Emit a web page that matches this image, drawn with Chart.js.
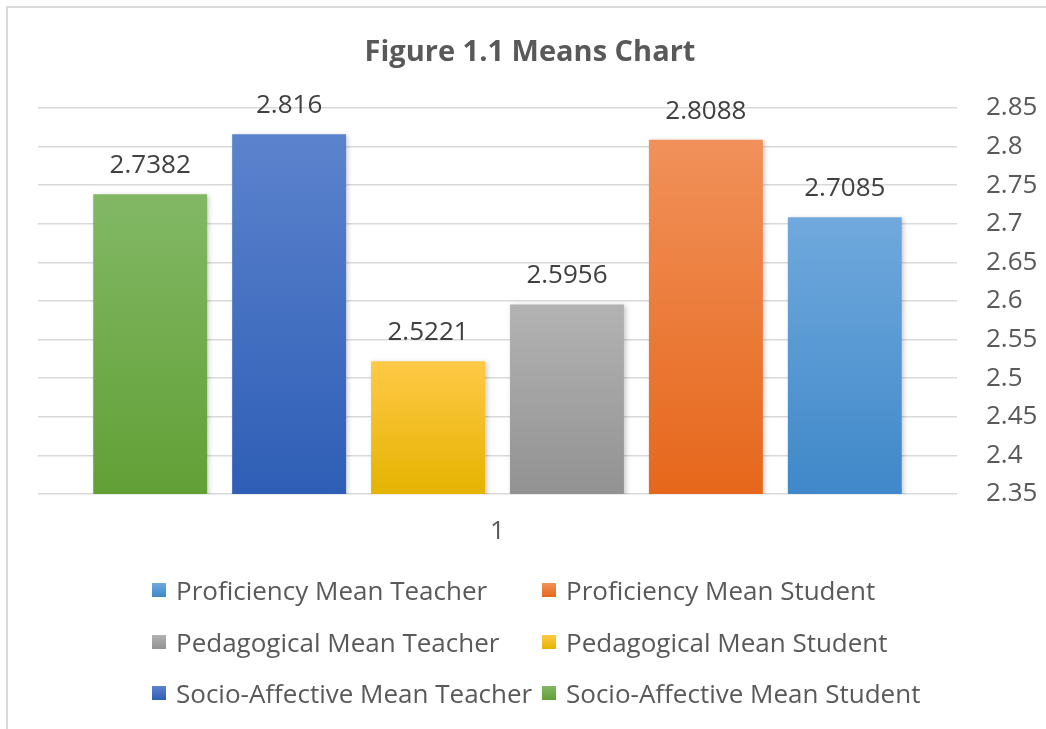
<!DOCTYPE html>
<html>
<head>
<meta charset="utf-8">
<script src="https://cdn.jsdelivr.net/npm/chart.js@4"></script>
<style>
  body { margin: 0; background: #fff; }
  #wrap { position: relative; width: 1046px; height: 729px; overflow: hidden; font-family: "Open Sans", sans-serif; }
  #frame { position: absolute; left: 6px; top: 6px; width: 1100px; height: 800px; border-top: 2px solid #d9d9d9; border-left: 2px solid #d9d9d9; }
  #mainChart { position: absolute; left: 0; top: 0; }
  #title { position: absolute; left: 330px; width: 400px; top: 30px; height: 40px; line-height: 40px; text-align: center; font-size: 29px; font-weight: bold; color: #595959; white-space: nowrap; }
  .leg { position: absolute; display: flex; align-items: center; font-size: 26px; color: #595959; white-space: nowrap; height: 36px; }
  .leg span.box { width: 14px; height: 14px; margin-right: 10px; display: inline-block; }
</style>
</head>
<body>
<div id="wrap">
  <div id="frame"></div>
  <canvas id="mainChart" width="1046" height="729"></canvas>
  <div id="title">Figure 1.1 Means Chart</div>
  <div id="legend"></div>
</div>
<script>
const categories = ['1'];
const seriesNames = [
  'Socio-Affective Mean Student',
  'Socio-Affective Mean Teacher',
  'Pedagogical Mean Student',
  'Pedagogical Mean Teacher',
  'Proficiency Mean Student',
  'Proficiency Mean Teacher'
];
const seriesValues = [2.7382, 2.816, 2.5221, 2.5956, 2.8088, 2.7085];
const seriesLabels = ['2.7382', '2.816', '2.5221', '2.5956', '2.8088', '2.7085'];
const yMin = 2.35;
const yMax = 2.85;
const yStep = 0.05;

// light top / dark bottom, like the office gradient fills
const colorsTop = ['#82b865', '#5c83cd', '#ffc947', '#b3b3b3', '#f1915a', '#70a9dd'];
const colorsBottom = ['#62a036', '#2e5eb6', '#e5b300', '#929292', '#e6671b', '#3f88c9'];

const textColor = '#595959';
const font = '"Open Sans", sans-serif';

function barGradient(context) {
  const chart = context.chart;
  const i = context.datasetIndex;
  const area = chart.chartArea;
  if (!area || !chart.scales.y) return colorsTop[i];
  const top = chart.scales.y.getPixelForValue(seriesValues[i]);
  const g = chart.ctx.createLinearGradient(0, top, 0, area.bottom);
  g.addColorStop(0, colorsTop[i]);
  g.addColorStop(1, colorsBottom[i]);
  return g;
}

const barShadow = {
  id: 'barShadow',
  beforeDatasetsDraw(chart) {
    const ctx = chart.ctx;
    ctx.save();
    ctx.shadowColor = 'rgba(0,0,0,0.22)';
    ctx.shadowBlur = 5;
    ctx.shadowOffsetX = 2;
    ctx.shadowOffsetY = 1;
  },
  afterDatasetsDraw(chart) {
    chart.ctx.restore();
    const ctx = chart.ctx;
    ctx.save();
    ctx.font = '26px ' + font;
    ctx.fillStyle = '#404040';
    ctx.textAlign = 'center';
    ctx.textBaseline = 'alphabetic';
    chart.data.datasets.forEach((ds, i) => {
      const bar = chart.getDatasetMeta(i).data[0];
      ctx.fillText(seriesLabels[i], bar.x, bar.y - 21);
    });
    ctx.restore();
  }
};

const datasets = seriesNames.map((name, i) => ({
  label: name,
  data: [seriesValues[i]],
  backgroundColor: barGradient,
  borderWidth: 0,
  barPercentage: 0.82,
  categoryPercentage: 0.907
}));

new Chart(document.getElementById('mainChart'), {
  type: 'bar',
  data: { labels: categories, datasets: datasets },
  options: {
    responsive: false,
    animation: false,
    layout: { padding: { left: 38, right: 0, top: 108, bottom: 182 } },
    plugins: {
      legend: { display: false },
      tooltip: { enabled: false },
      title: { display: false }
    },
    scales: {
      x: {
        grid: { display: false, drawTicks: false },
        border: { display: false },
        afterFit(scale) { scale.height = 53; },
        ticks: { color: textColor, font: { family: font, size: 26 }, padding: 22 }
      },
      y: {
        position: 'right',
        min: yMin,
        max: yMax,
        grid: { color: '#d9d9d9', lineWidth: 1.5, drawTicks: false },
        border: { display: false },
        afterFit(scale) { scale.width = 89; },
        ticks: {
          stepSize: yStep,
          color: textColor,
          font: { family: font, size: 26 },
          padding: 29,
          callback: (v) => String(Number(v.toFixed(2)))
        }
      }
    }
  },
  plugins: [barShadow]
});

// legend: reversed order, two columns
const legendEl = document.getElementById('legend');
const legCols = [152, 542];
const legRows = [590, 642, 693];
const legOrder = seriesNames.map((n, i) => i).reverse();
legOrder.forEach((idx, k) => {
  const el = document.createElement('div');
  el.className = 'leg';
  el.style.left = legCols[k % 2] + 'px';
  el.style.top = (legRows[Math.floor(k / 2)] - 18) + 'px';
  el.innerHTML = `<span class="box" style="background: linear-gradient(${colorsTop[idx]}, ${colorsBottom[idx]})"></span>${seriesNames[idx]}`;
  legendEl.appendChild(el);
});
</script>
</body>
</html>
